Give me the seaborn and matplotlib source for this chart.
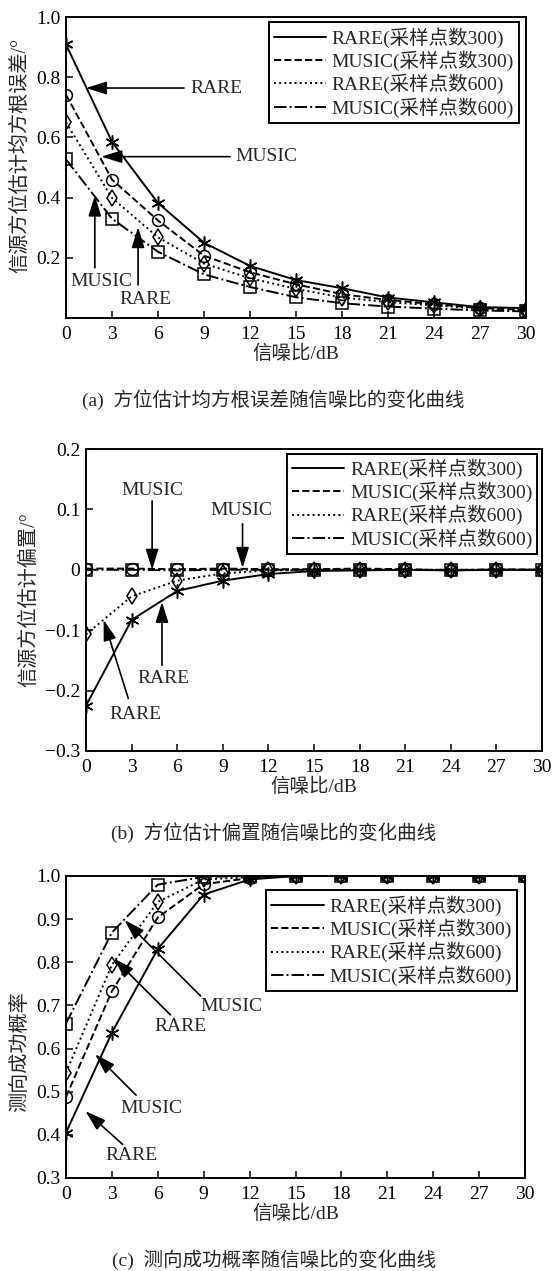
import matplotlib
matplotlib.use("Agg")
import matplotlib.pyplot as plt
from matplotlib.lines import Line2D
import seaborn as sns
import pandas as pd

# Signal-to-noise ratio axis (dB)
snr = [0, 3, 6, 9, 12, 15, 18, 21, 24, 27, 30]

# (a) RMS error of the bearing estimate (degrees)
rmse_rare300 = [0.909, 0.585, 0.382, 0.250, 0.173, 0.126, 0.099, 0.068, 0.052, 0.036, 0.033]
rmse_music300 = [0.742, 0.460, 0.324, 0.207, 0.152, 0.112, 0.079, 0.060, 0.046, 0.033, 0.027]
rmse_rare600 = [0.650, 0.399, 0.268, 0.181, 0.132, 0.097, 0.068, 0.053, 0.042, 0.031, 0.025]
rmse_music600 = [0.527, 0.330, 0.220, 0.145, 0.103, 0.069, 0.049, 0.038, 0.031, 0.025, 0.022]

# (b) bias of the bearing estimate (degrees)
bias_rare300 = [-0.225, -0.083, -0.035, -0.018, -0.007, -0.002, -0.001, 0.0, -0.001, 0.0, 0.0]
bias_music300 = [0.002, 0.002, 0.001, 0.002, 0.001, 0.001, 0.002, 0.001, -0.001, 0.001, 0.0]
bias_rare600 = [-0.107, -0.044, -0.018, -0.006, -0.001, 0.0, 0.0, 0.0, 0.0, 0.0, 0.0]
bias_music600 = [0.0, 0.0, -0.001, 0.0, 0.0, 0.0, 0.0, 0.0, 0.0, 0.0, 0.0]

# (c) probability of successful direction finding
prob_rare300 = [0.405, 0.637, 0.831, 0.957, 0.992, 1.0, 1.0, 1.0, 1.0, 1.0, 1.0]
prob_music300 = [0.488, 0.733, 0.904, 0.981, 0.995, 1.0, 1.0, 1.0, 1.0, 1.0, 1.0]
prob_rare600 = [0.544, 0.794, 0.940, 0.992, 0.997, 1.0, 1.0, 1.0, 1.0, 1.0, 1.0]
prob_music600 = [0.658, 0.869, 0.980, 0.998, 1.0, 1.0, 1.0, 1.0, 1.0, 1.0, 1.0]

series_names = ["RARE(采样点数300)", "MUSIC(采样点数300)",
                "RARE(采样点数600)", "MUSIC(采样点数600)"]

x_label = "信噪比/dB"
y_labels = ["信源方位估计均方根误差/°", "信源方位估计偏置/°", "测向成功概率"]
captions = ["(a)  方位估计均方根误差随信噪比的变化曲线",
            "(b)  方位估计偏置随信噪比的变化曲线",
            "(c)  测向成功概率随信噪比的变化曲线"]

sns.set_theme(style="ticks")
plt.rcParams["font.family"] = ["Liberation Serif", "Noto Sans CJK SC"]
plt.rcParams["axes.unicode_minus"] = True

FS = 14
line_styles = ["-", "--", ":", "-."]
markers = [(6, 2, 0), "o", "d", "s"]
marker_sizes = [10, 8.5, 8.5, 8.5]

W, H = 553, 1271
fig = plt.figure(figsize=(W / 100, H / 100), dpi=100)


def px_axes(left, right, top, bottom):
    return fig.add_axes([left / W, 1 - bottom / H, (right - left) / W, (bottom - top) / H])


ax_a = px_axes(66, 526, 17, 318)
ax_b = px_axes(86, 542, 449, 751)
ax_c = px_axes(66, 525, 876, 1178)

panels = [
    (ax_a, [rmse_rare300, rmse_music300, rmse_rare600, rmse_music600]),
    (ax_b, [bias_rare300, bias_music300, bias_rare600, bias_music600]),
    (ax_c, [prob_rare300, prob_music300, prob_rare600, prob_music600]),
]

for ax, values in panels:
    for i, (name, vals) in enumerate(zip(series_names, values)):
        df = pd.DataFrame({"snr": snr, "value": vals})
        sns.lineplot(data=df, x="snr", y="value", ax=ax, color="black",
                     linestyle=line_styles[i], linewidth=1.4,
                     marker=markers[i], markersize=marker_sizes[i],
                     markerfacecolor="none" if i else "black",
                     markeredgecolor="black", markeredgewidth=1.1,
                     legend=False, zorder=3 + i)

handles = [Line2D([], [], color="black", linestyle=ls, linewidth=1.4)
           for ls in line_styles]

for ax in (ax_a, ax_b, ax_c):
    ax.set_xlim(0, 30)
    ax.set_xticks(snr)
    ax.set_xticklabels([str(v) for v in snr])
    ax.tick_params(direction="in", length=5, width=1.1, labelsize=FS,
                   colors="black", top=False, right=False)
    ax.tick_params(axis="x", pad=6)
    ax.tick_params(axis="y", pad=4)
    for sp in ax.spines.values():
        sp.set_linewidth(1.4)
        sp.set_color("black")
        sp.set_visible(True)
    ax.set_xlabel(x_label, fontsize=FS, labelpad=1)
    ax.set_facecolor("white")

# panel (a)
ax_a.set_ylim(0, 1.0)
ax_a.set_yticks([0.2, 0.4, 0.6, 0.8, 1.0])
ax_a.set_yticklabels(["0.2", "0.4", "0.6", "0.8", "1.0"])
ax_a.set_ylabel(y_labels[0], fontsize=14.5)
ax_a.yaxis.set_label_coords(-0.078, 0.54)

# panel (b)
ax_b.set_ylim(-0.3, 0.2)
ax_b.set_yticks([-0.3, -0.2, -0.1, 0, 0.1, 0.2])
ax_b.set_yticklabels(["\u22120.3", "\u22120.2", "\u22120.1", "0", "0.1", "0.2"])
ax_b.set_ylabel(y_labels[1], fontsize=14.5)
ax_b.yaxis.set_label_coords(-0.102, 0.5)

# panel (c)
ax_c.set_ylim(0.3, 1.0)
ax_c.set_yticks([0.3, 0.4, 0.5, 0.6, 0.7, 0.8, 0.9, 1.0])
ax_c.set_yticklabels(["0.3", "0.4", "0.5", "0.6", "0.7", "0.8", "0.9", "1.0"])
ax_c.set_ylabel(y_labels[2], fontsize=14.5)
ax_c.yaxis.set_label_coords(-0.078, 0.42)

# legends
legend_anchor = {ax_a: (0.985, 0.982), ax_b: (0.99, 0.985), ax_c: (0.982, 0.952)}
for ax in (ax_a, ax_b, ax_c):
    leg = ax.legend(handles, series_names, loc="upper right",
                    bbox_to_anchor=legend_anchor[ax], fontsize=FS,
                    frameon=True, fancybox=False, framealpha=1,
                    edgecolor="black", handlelength=2.7, handletextpad=0.3,
                    labelspacing=0.15, borderpad=0.25, borderaxespad=0.0)
    leg.get_frame().set_linewidth(1.4)
    leg.set_zorder(20)

arrow_kw = dict(arrowstyle="-|>,head_length=0.9,head_width=0.28",
                color="black", lw=1.2, shrinkA=0, shrinkB=0, mutation_scale=14)


def pointer(ax, tail, tip, label, text_xy):
    ax.annotate("", xy=tip, xytext=tail, arrowprops=arrow_kw, zorder=10)
    ax.text(text_xy[0], text_xy[1], label, fontsize=FS, ha="center",
            va="center", zorder=11)


# callouts, panel (a)
pointer(ax_a, (7.7, 0.764), (1.3, 0.764), "RARE", (9.8, 0.764))
pointer(ax_a, (10.7, 0.536), (2.3, 0.536), "MUSIC", (13.1, 0.536))
pointer(ax_a, (1.88, 0.167), (1.88, 0.407), "MUSIC", (2.3, 0.12))
pointer(ax_a, (4.7, 0.11), (4.7, 0.302), "RARE", (5.2, 0.06))

# callouts, panel (b)
pointer(ax_b, (4.35, 0.114), (4.35, 0.0), "MUSIC", (4.35, 0.131))
pointer(ax_b, (10.3, 0.076), (10.3, 0.003), "MUSIC", (10.2, 0.098))
pointer(ax_b, (5.0, -0.158), (5.0, -0.053), "RARE", (5.1, -0.18))
pointer(ax_b, (2.78, -0.213), (1.16, -0.083), "RARE", (3.24, -0.239))

# callouts, panel (c)
pointer(ax_c, (8.8, 0.722), (3.82, 0.898), "MUSIC", (10.8, 0.697))
pointer(ax_c, (6.83, 0.678), (3.13, 0.809), "RARE", (7.5, 0.652))
pointer(ax_c, (4.58, 0.492), (1.9, 0.587), "MUSIC", (5.6, 0.461))
pointer(ax_c, (3.7, 0.378), (1.27, 0.455), "RARE", (4.28, 0.353))

# figure captions
for cap, ypx in zip(captions, [400, 833, 1260]):
    fig.text(0.495, 1 - ypx / H, cap, fontsize=FS, ha="center", va="center")

fig.savefig("out.png", dpi=100, facecolor="white")
